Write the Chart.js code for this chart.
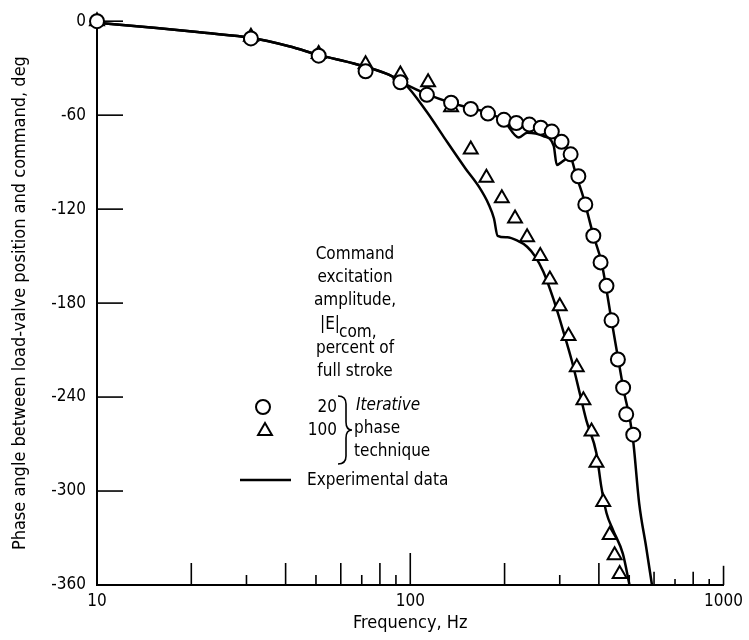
<!DOCTYPE html>
<html>
<head>
<meta charset="utf-8">
<title>Phase angle vs frequency</title>
<script src="https://cdn.jsdelivr.net/npm/chart.js@4"></script>
<style>
    body { margin: 0; background: #fff; }
    canvas { display: block; }
</style>
</head>
<body>
<canvas id="phaseChart" width="749" height="640"></canvas>
<script>
// Iterative phase technique, 20 percent of full stroke (circles)
var freq20 = [10, 31, 51, 72, 93, 113, 135, 156, 177, 199, 218, 240, 261, 283, 304, 325, 344, 362, 384, 405, 423, 439, 460, 478, 489, 515];
var phase20 = [0, -11, -22, -32, -39, -47, -52, -56, -59, -63, -65, -66, -68, -70.5, -77, -85, -99, -117, -137, -154, -169, -191, -216, -234, -251, -264];

// Iterative phase technique, 100 percent of full stroke (triangles)
var freq100 = [10, 31, 51, 72, 93, 114, 135, 156, 175, 196, 216, 236, 260, 279, 300, 320, 340, 357, 379, 393, 413, 433, 449, 466];
var phase100 = [0, -10, -21, -27.5, -34, -39, -55, -82, -100, -113, -126, -138, -150, -165, -182, -201, -221, -242, -262, -282, -307, -328, -341, -353];

// Experimental data, 100 percent curve (the one falling first)
var freqExp100 = [10, 15.5, 22, 31, 41, 52, 66, 85, 96, 113, 128, 150, 166, 178, 185, 190, 204, 219, 236, 250, 266, 287, 308, 328, 348, 365, 393, 407, 423, 444, 477, 501];
var phaseExp100 = [-1, -4.3, -7.4, -10.6, -16, -22, -27, -34, -40, -58, -74, -94, -106, -117, -126, -137, -138, -140, -144, -150, -160, -178, -198, -217, -238, -255, -276, -297, -314, -325, -340, -360];

// Experimental data, 20 percent curve
var freqExp20 = [10, 15.5, 22, 31, 41, 52, 66, 85, 96, 113.5, 134.6, 156, 178, 199, 222, 236, 266, 287, 293.5, 308, 323, 340, 357, 384, 408, 439, 478, 513, 538, 566, 591];
var phaseExp20 = [-1, -4.3, -7.4, -10.6, -16, -22, -27, -34, -40, -46.7, -52, -55.6, -58.6, -63.7, -74.3, -71.2, -73.3, -79.6, -91.8, -89.2, -86.7, -99.8, -112.6, -136.6, -154.2, -191, -233.8, -265.5, -308, -335.6, -360];

// Ticks
var xTickLabels = [10, 100, 1000];
var xMinorTicks = [20, 30, 40, 50, 60, 70, 80, 90, 200, 300, 400, 500, 600, 700, 800, 900];
var yTickValues = [0, -60, -120, -180, -240, -300, -360];

var FONT = '"DejaVu Sans Condensed", "DejaVu Sans", sans-serif';

function toPoints(xs, ys) {
    return xs.map(function (x, i) { return { x: x, y: ys[i] }; });
}

// Ticks of the original point into the plot, so we draw them ourselves
var inwardTicks = {
    id: 'inwardTicks',
    beforeDatasetsDraw: function (chart) {
        var c = chart.ctx, xs = chart.scales.x, ys = chart.scales.y, a = chart.chartArea;
        c.save();
        c.strokeStyle = '#000';
        c.lineWidth = 1.6;
        yTickValues.forEach(function (v) {
            if (v === -360) return;
            var py = ys.getPixelForValue(v);
            c.beginPath();
            c.moveTo(a.left, py);
            c.lineTo(a.left + 26, py);
            c.stroke();
        });
        xTickLabels.concat(xMinorTicks).forEach(function (v) {
            if (v === 10) return;
            var px = xs.getPixelForValue(v);
            var m = Math.round(v / Math.pow(10, Math.floor(Math.log10(v) + 1e-9)));
            var len = m === 1 ? 32 : (m % 2 === 0 ? 22 : 10);
            if (v > 500) len = len * 0.6;
            c.beginPath();
            c.moveTo(px, a.bottom);
            c.lineTo(px, a.bottom - len);
            c.stroke();
        });
        c.restore();
    }
};

// Text block and key inside the plot
var annotations = {
    id: 'annotations',
    afterDraw: function (chart) {
        var c = chart.ctx;
        c.save();
        c.fillStyle = '#000';
        c.strokeStyle = '#000';
        c.font = '17px ' + FONT;
        c.textAlign = 'center';
        c.textBaseline = 'middle';
        c.fillText('Command', 355, 255);
        c.fillText('excitation', 355, 278);
        c.fillText('amplitude,', 355, 301);
        c.fillText('percent of', 355, 349);
        c.fillText('full stroke', 355, 372);
        c.textAlign = 'left';
        c.textBaseline = 'alphabetic';
        c.fillText('|E|', 320, 329);
        c.fillText('com,', 339, 337);

        // key: markers
        c.lineWidth = 2;
        c.fillStyle = '#fff';
        Chart.helpers.drawPoint(c, { pointStyle: 'circle', radius: 7, borderWidth: 2, rotation: 0 }, 263, 407);
        c.fillStyle = '#fff';
        Chart.helpers.drawPoint(c, { pointStyle: 'triangle', radius: 8, borderWidth: 2, rotation: 0 }, 265, 431);

        c.fillStyle = '#000';
        c.textBaseline = 'middle';
        c.textAlign = 'right';
        c.fillText('20', 337, 408);
        c.fillText('100', 337, 431);

        // brace
        c.lineWidth = 1.6;
        c.beginPath();
        c.moveTo(338, 396);
        c.quadraticCurveTo(346, 396, 346, 404);
        c.lineTo(346, 422);
        c.quadraticCurveTo(346, 430, 352, 430);
        c.quadraticCurveTo(346, 430, 346, 438);
        c.lineTo(346, 456);
        c.quadraticCurveTo(346, 464, 338, 464);
        c.stroke();

        c.textAlign = 'left';
        c.font = 'italic 17px ' + FONT;
        c.fillText('Iterative', 356, 406);
        c.font = '17px ' + FONT;
        c.fillText('phase', 354, 429);
        c.fillText('technique', 354, 452);

        // key: experimental line
        c.lineWidth = 2.5;
        c.beginPath();
        c.moveTo(240, 480);
        c.lineTo(291, 480);
        c.stroke();
        c.fillText('Experimental data', 307, 481);
        c.restore();
    }
};

var markerBase = {
    showLine: false,
    pointBorderColor: '#000',
    pointBackgroundColor: '#fff',
    pointBorderWidth: 2,
    clip: false,
    order: 0
};
var lineBase = {
    showLine: true,
    pointRadius: 0,
    borderColor: '#000',
    borderWidth: 2.5,
    cubicInterpolationMode: 'monotone',
    clip: false,
    order: 1
};

var ctx = document.getElementById('phaseChart').getContext('2d');
new Chart(ctx, {
    type: 'scatter',
    data: {
        datasets: [
            Object.assign({ label: '20', data: toPoints(freq20, phase20), pointStyle: 'circle', pointRadius: 7 }, markerBase),
            Object.assign({ label: '100', data: toPoints(freq100, phase100), pointStyle: 'triangle', pointRadius: 8 }, markerBase),
            Object.assign({ label: 'Experimental data 100', data: toPoints(freqExp100, phaseExp100) }, lineBase),
            Object.assign({ label: 'Experimental data 20', data: toPoints(freqExp20, phaseExp20) }, lineBase)
        ]
    },
    options: {
        responsive: false,
        animation: false,
        layout: { padding: { left: 0, right: 21, top: 20, bottom: 0 } },
        plugins: {
            legend: { display: false },
            tooltip: { enabled: false }
        },
        scales: {
            x: {
                type: 'logarithmic',
                min: 10,
                max: 1000,
                afterBuildTicks: function (scale) {
                    scale.ticks = xTickLabels.map(function (v) { return { value: v }; });
                },
                afterFit: function (scale) { scale.height = 55; },
                grid: { display: false, drawTicks: false },
                border: { display: true, color: '#000', width: 2 },
                ticks: {
                    color: '#000',
                    padding: 6,
                    font: { family: FONT, size: 17 },
                    maxRotation: 0,
                    autoSkip: false,
                    callback: function (v) { return String(v); }
                },
                title: {
                    display: true,
                    text: 'Frequency, Hz',
                    color: '#000',
                    font: { family: FONT, size: 18 },
                    padding: { top: 0, bottom: 6 }
                }
            },
            y: {
                min: -360,
                max: 0,
                afterBuildTicks: function (scale) {
                    scale.ticks = yTickValues.map(function (v) { return { value: v }; });
                },
                afterFit: function (scale) { scale.width = 97; },
                grid: { display: false, drawTicks: false },
                border: { display: true, color: '#000', width: 2 },
                ticks: {
                    color: '#000',
                    padding: 11,
                    font: { family: FONT, size: 17 },
                    callback: function (v) { return String(v); }
                },
                title: {
                    display: true,
                    text: 'Phase angle between load-valve position and command, deg',
                    color: '#000',
                    font: { family: FONT, size: 18 },
                    padding: { top: 10, bottom: 0 }
                }
            }
        }
    },
    plugins: [inwardTicks, annotations]
});
</script>
</body>
</html>
